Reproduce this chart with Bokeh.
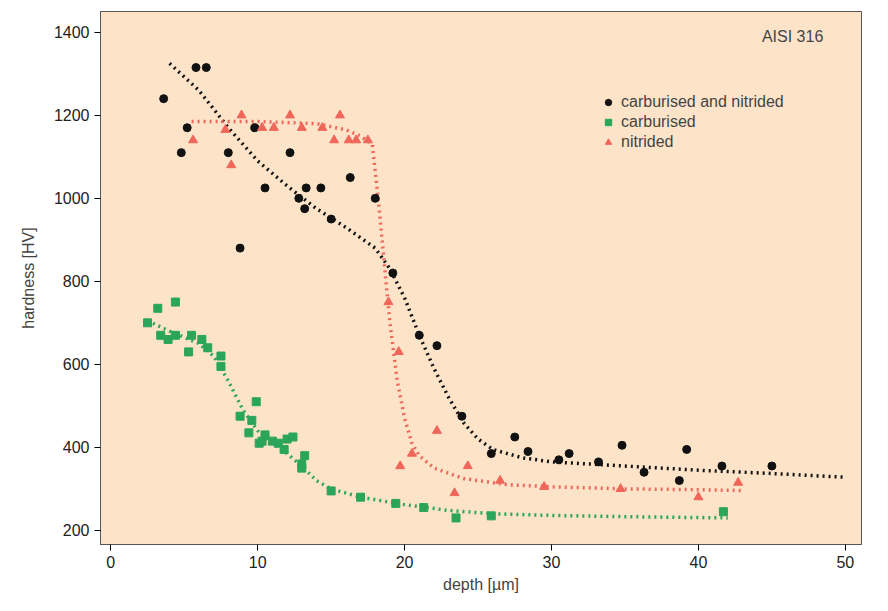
from bokeh.plotting import figure
from bokeh.models import Legend, LegendItem, Label
from bokeh.embed import file_html
from bokeh.resources import INLINE

# carburised and nitrided
cn_x = [3.6, 4.8, 5.2, 5.8, 6.5, 8.0, 8.8, 9.8, 10.5, 12.2, 12.8, 13.2, 13.3, 14.3, 15.0, 16.3, 18.0,
        19.2, 21.0, 22.2, 23.9, 25.9, 27.5, 28.4, 30.5, 31.2, 33.2, 34.8, 36.3, 38.7, 39.2, 41.6, 45.0]
cn_y = [1240, 1110, 1170, 1315, 1315, 1110, 880, 1170, 1025, 1110, 1000, 975, 1025, 1025, 950, 1050, 1000,
        820, 670, 645, 475, 385, 425, 390, 370, 385, 365, 405, 340, 320, 395, 355, 355]
# carburised
c_x = [2.5, 3.2, 3.4, 3.9, 4.4, 4.4, 5.3, 5.5, 6.2, 6.6, 7.5, 7.5, 8.8, 9.6, 9.9, 9.4, 10.1, 10.5, 10.3,
       11.0, 11.4, 11.8, 12.0, 12.4, 13.0, 13.2, 13.0, 15.0, 17.0, 19.4, 21.3, 23.5, 25.9, 41.7]
c_y = [700, 735, 670, 660, 750, 670, 630, 670, 660, 640, 620, 595, 475, 465, 510, 435, 410, 430, 415,
       415, 410, 395, 420, 425, 350, 380, 360, 295, 280, 265, 255, 230, 235, 245]
# nitrided
n_x = [5.6, 7.8, 8.2, 8.9, 10.3, 11.1, 12.2, 13.0, 14.4, 15.2, 15.6, 16.2, 16.7, 17.5, 18.9, 19.6,
       19.7, 20.5, 22.2, 23.4, 24.3, 26.5, 29.5, 34.7, 40.0, 42.7]
n_y = [1140, 1165, 1080, 1200, 1170, 1170, 1200, 1170, 1170, 1140, 1200, 1140, 1140, 1140, 750, 630,
       355, 385, 440, 290, 355, 320, 305, 300, 280, 315]

# fitted curves
cn_fit_x = [4, 6, 8, 10, 12, 14, 16, 18, 19, 20, 21, 22, 23, 24, 25, 26, 28, 30, 35, 40, 45, 50]
cn_fit_y = [1325, 1260, 1170, 1090, 1030, 975, 930, 880, 830, 760, 670, 590, 520, 460, 420, 395, 375,
            365, 355, 345, 337, 328]
n_fit_x = [5.5, 10, 14, 16, 17, 17.8, 18.2, 18.6, 19, 19.5, 20, 20.5, 21, 22, 24, 27, 30, 35, 40, 43]
n_fit_y = [1185, 1185, 1180, 1165, 1150, 1130, 1000, 850, 700, 560, 470, 410, 380, 350, 325, 310, 305,
           300, 298, 296]
c_fit_x = [2.5, 4, 6, 7, 8, 9, 10, 11, 12, 13, 14, 15, 17, 20, 23, 26, 30, 35, 42]
c_fit_y = [705, 680, 650, 620, 560, 490, 440, 410, 385, 355, 320, 300, 280, 262, 248, 240, 236, 233, 230]

BLACK = "#111111"
GREEN = "#2aa55a"
RED = "#f0665a"
FONT = "Liberation Sans"

p = figure(width=872, height=595, output_backend="svg", toolbar_location=None,
           x_range=(-0.7, 51.1), y_range=(166, 1450),
           background_fill_color="#fde4c9", border_fill_color="white",
           min_border_left=100, min_border_bottom=50, min_border_top=11, min_border_right=11)
p.grid.grid_line_color = None
p.outline_line_color = "#555555"
p.xaxis.axis_label = "depth [µm]"
p.yaxis.axis_label = "hardness [HV]"
for ax in (p.xaxis, p.yaxis):
    ax.axis_label_text_font = FONT
    ax.axis_label_text_font_style = "normal"
    ax.axis_label_text_font_size = "16px"
    ax.major_label_text_font = FONT
    ax.major_label_text_font_size = "16px"
    ax.major_label_text_color = "#222222"
    ax.minor_tick_line_color = None
    ax.major_tick_out = 6
    ax.major_tick_in = 0
    ax.axis_line_color = "#555555"
p.xaxis.ticker = [0, 10, 20, 30, 40, 50]
p.yaxis.ticker = [200, 400, 600, 800, 1000, 1200, 1400]
p.yaxis.axis_label_standoff = 14

p.line(cn_fit_x, cn_fit_y, line_color=BLACK, line_width=3.5, line_dash="2 4")
p.line(n_fit_x, n_fit_y, line_color=RED, line_width=3.5, line_dash="2 4")
p.line(c_fit_x, c_fit_y, line_color=GREEN, line_width=3.5, line_dash="2 4")

r1 = p.scatter(cn_x, cn_y, marker="circle", size=8, color=BLACK)
r2 = p.scatter(c_x, c_y, marker="square", size=8, color=GREEN)
r3 = p.scatter(n_x, n_y, marker="triangle", size=9, color=RED)

legend = Legend(items=[LegendItem(label="carburised and nitrided", renderers=[r1]),
                       LegendItem(label="carburised", renderers=[r2]),
                       LegendItem(label="nitrided", renderers=[r3])],
                location=(500, 392), background_fill_alpha=0, border_line_color=None,
                label_text_font=FONT, label_text_font_size="16px", spacing=0,
                glyph_width=16, label_height=20, margin=0, padding=4)
p.add_layout(legend)

p.add_layout(Label(x=48.5, y=1390, text="AISI 316", text_font=FONT, text_font_size="16px",
                   text_align="right", text_baseline="middle"))

open("out.html", "w").write(file_html(p, INLINE))
